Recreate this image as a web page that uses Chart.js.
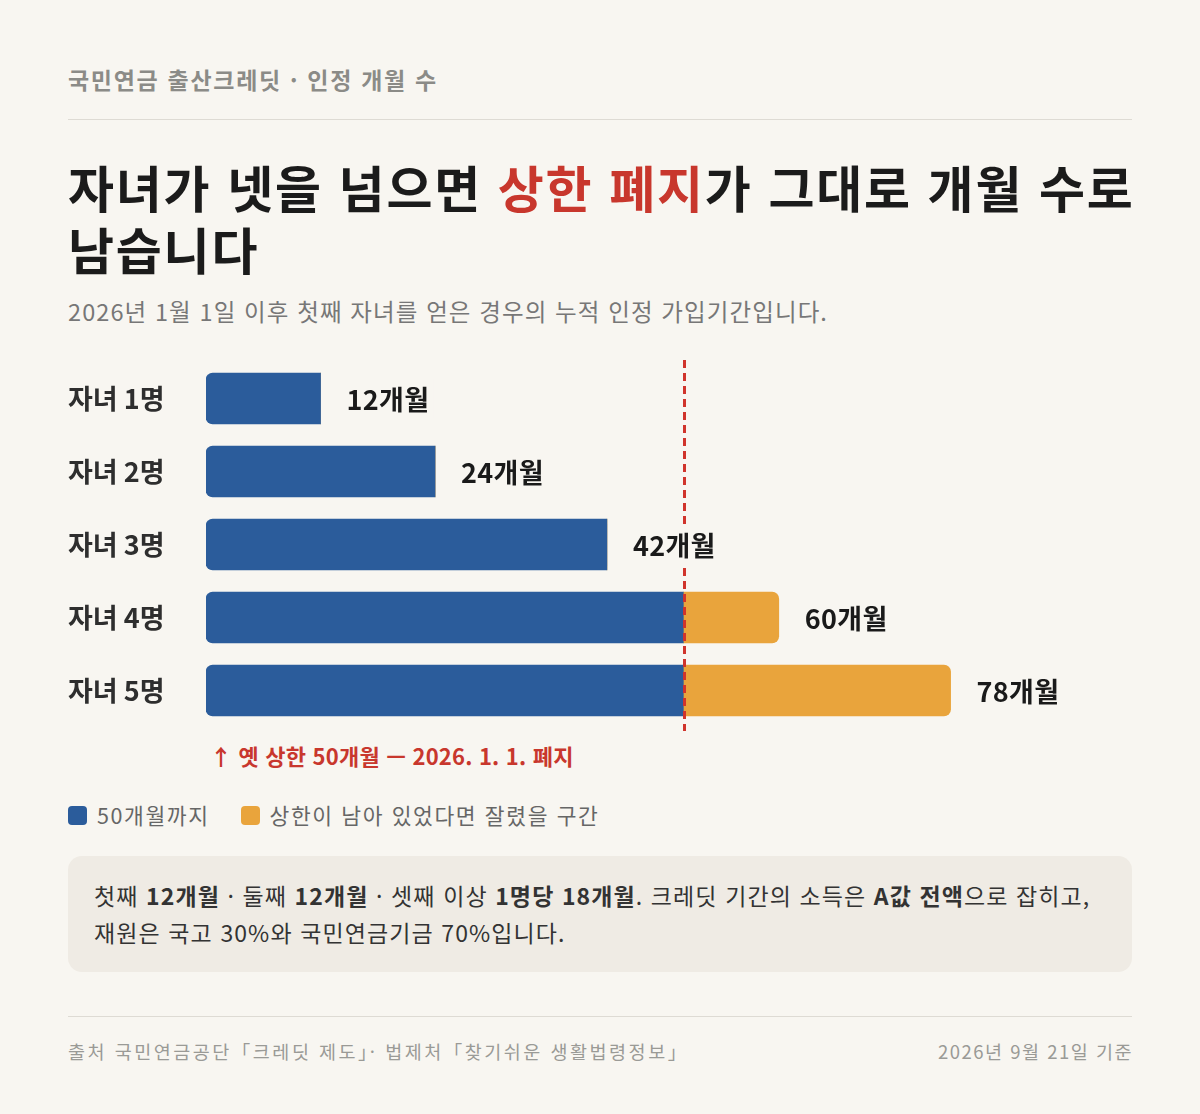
<!DOCTYPE html>
<html lang="ko">
<head>
<meta charset="UTF-8" />
<script src="https://cdn.jsdelivr.net/npm/chart.js"></script>
<style>
  body { margin: 0; background: #f8f6f1; font-family: "Noto Sans CJK KR", "Noto Sans", sans-serif; }
  .page { position: relative; width: 1200px; height: 1114px; }
  .kicker { position: absolute; left: 68px; top: 63px; font-size: 23px; letter-spacing: 1.7px; font-weight: 700; color: #8b8b87; line-height: 32px; }
  .rule { position: absolute; left: 68px; width: 1064px; height: 1px; background: #dedbd4; }
  h1 { position: absolute; left: 68px; top: 155px; margin: 0; white-space: nowrap; font-size: 50px; letter-spacing: 1.8px; font-weight: 700; line-height: 62px; color: #1b1b1b; }
  h1 .hl { color: #c8372d; }
  .sub { position: absolute; left: 68px; top: 295px; font-size: 23.5px; letter-spacing: 1.1px; color: #777; line-height: 32px; }
  #chartBox { position: absolute; left: 68px; top: 358px; width: 1064px; height: 373px; }
  .note-cap { position: absolute; left: 210px; top: 740px; font-size: 22px; letter-spacing: 0.2px; font-weight: 700; color: #c8372d; line-height: 30px; }
  .legend { position: absolute; left: 68px; top: 800px; display: flex; gap: 31px; font-size: 21.5px; letter-spacing: 1.6px; color: #666; line-height: 30px; }
  .legend span { display: inline-flex; align-items: center; }
  .legend i { display: inline-block; width: 19px; height: 19px; border-radius: 4px; margin-right: 10px; }
  .box { position: absolute; left: 68px; top: 856px; width: 1064px; height: 116px; background: #efebe4; border-radius: 14px; }
  .box p { margin: 0; position: absolute; left: 26px; top: 21px; white-space: nowrap; font-size: 23px; letter-spacing: 1.1px; line-height: 37px; color: #333; }
  .foot { position: absolute; top: 1037px; font-size: 18.5px; color: #9a9a96; line-height: 28px; }
</style>
</head>
<body>
<div class="page">
  <div class="kicker">국민연금 출산크레딧 · 인정 개월 수</div>
  <div class="rule" style="top:119px"></div>
  <h1>자녀가 넷을 넘으면 <span class="hl">상한 폐지</span>가 그대로 개월 수로<br>남습니다</h1>
  <div class="sub">2026년 1월 1일 이후 첫째 자녀를 얻은 경우의 누적 인정 가입기간입니다.</div>
  <div id="chartBox"><canvas id="creditChart"></canvas></div>
  <div class="note-cap">↑ 옛 상한 50개월 — 2026. 1. 1. 폐지</div>
  <div class="legend" id="legend"></div>
  <div class="box"><p>첫째 <b>12개월</b> · 둘째 <b>12개월</b> · 셋째 이상 <b>1명당 18개월</b>. 크레딧 기간의 소득은 <b>A값 전액</b>으로 잡히고,<br>재원은 국고 30%와 국민연금기금 70%입니다.</p></div>
  <div class="rule" style="top:1016px"></div>
  <div class="foot" style="left:68px; letter-spacing:2.5px">출처 국민연금공단「크레딧 제도」· 법제처「찾기쉬운 생활법령정보」</div>
  <div class="foot" style="right:67px; letter-spacing:1.5px">2026년 9월 21일 기준</div>
</div>

<script>
const categories = ['자녀 1명', '자녀 2명', '자녀 3명', '자녀 4명', '자녀 5명'];
const withinCap = [12, 24, 42, 50, 50];
const beyondCap = [0, 0, 0, 10, 28];
const oldCap = 50;
const seriesNames = ['50개월까지', '상한이 남아 있었다면 잘렸을 구간'];
const seriesColors = ['#2b5c9b', '#e9a43c'];
const BG = '#f8f6f1';

// legend
document.getElementById('legend').innerHTML = seriesNames
  .map((n, i) => `<span><i style="background:${seriesColors[i]}"></i>${n}</span>`).join('');

const capLine = {
  id: 'capLine',
  afterDatasetsDraw(chart) {
    const { ctx, chartArea, scales } = chart;
    const x = Math.round(scales.x.getPixelForValue(oldCap)) + 1.5;
    ctx.save();
    ctx.strokeStyle = '#d0342c';
    ctx.lineWidth = 3;
    ctx.setLineDash([8, 5]);
    ctx.beginPath();
    ctx.moveTo(x, chartArea.top - 2);
    ctx.lineTo(x, chartArea.bottom + 4);
    ctx.stroke();
    ctx.restore();

    // total labels
    ctx.save();
    ctx.font = '700 27px "Noto Sans CJK KR"';
    ctx.letterSpacing = '0.3px';
    ctx.textBaseline = 'middle';
    categories.forEach((c, i) => {
      const total = withinCap[i] + beyondCap[i];
      const label = total + '개월';
      const lx = scales.x.getPixelForValue(total) + 26;
      const ly = scales.y.getPixelForValue(i);
      const w = ctx.measureText(label).width;
      ctx.fillStyle = BG;
      ctx.fillRect(lx - 4, ly - 20, w + 8, 40);
      ctx.fillStyle = '#1a1a1a';
      ctx.fillText(label, lx, ly + 1);
    });
    ctx.restore();
  }
};

new Chart(document.getElementById('creditChart'), {
  type: 'bar',
  data: {
    labels: categories,
    datasets: [
      {
        label: seriesNames[0],
        data: withinCap,
        backgroundColor: seriesColors[0],
        borderSkipped: false,
        borderRadius: { topLeft: 7, bottomLeft: 7, topRight: 0, bottomRight: 0 },
        barThickness: 51,
      },
      {
        label: seriesNames[1],
        data: beyondCap,
        backgroundColor: seriesColors[1],
        borderSkipped: false,
        borderRadius: { topLeft: 0, bottomLeft: 0, topRight: 7, bottomRight: 7 },
        barThickness: 51,
      },
    ],
  },
  options: {
    indexAxis: 'y',
    responsive: true,
    maintainAspectRatio: false,
    animation: false,
    layout: { padding: { top: 4, bottom: 4, left: 0, right: 0 } },
    scales: {
      x: { stacked: true, min: 0, max: 97, display: false },
      y: {
        stacked: true,
        grid: { display: false },
        border: { display: false },
        afterFit: s => { s.width = 138; s.paddingTop = 0; s.paddingBottom = 0; },
        ticks: {
          crossAlign: 'far',
          padding: 0,
          color: '#2e2e2e',
          font: { family: '"Noto Sans CJK KR"', size: 27, weight: '700' },
        },
      },
    },
    plugins: {
      legend: { display: false },
      tooltip: { enabled: false },
    },
  },
  plugins: [capLine],
});
</script>
</body>
</html>
